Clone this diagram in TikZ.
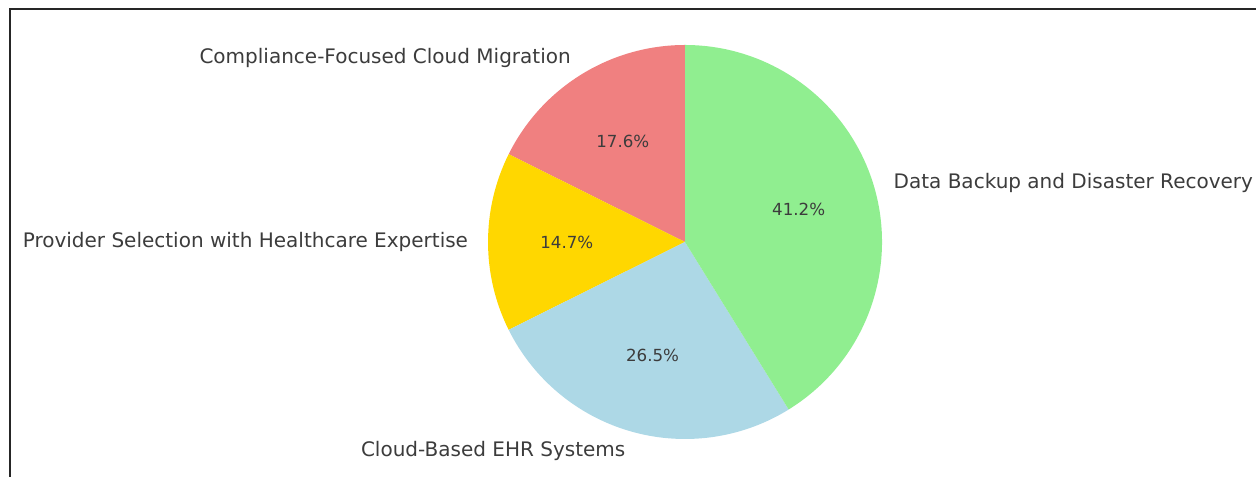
\documentclass[tikz,border=0pt]{standalone}
\usepackage{fontspec}
\setmainfont{DejaVu Sans}
\usepackage{tikz}
\usetikzlibrary{positioning}
\usepackage{xcolor}
\definecolor{slicered}{RGB}{240,128,128}
\definecolor{sliceyellow}{RGB}{255,215,0}
\definecolor{sliceblue}{RGB}{173,216,230}
\definecolor{slicegreen}{RGB}{144,238,144}
\definecolor{labelgray}{RGB}{60,60,60}
\tikzstyle{slice} = [draw=none]
\tikzstyle{catlabel} = [inner sep=0pt, text=labelgray, font=\fontsize{15}{17}\selectfont]
\tikzstyle{pctlabel} = [inner sep=0pt, text=labelgray, font=\fontsize{12.5}{14}\selectfont]

\begin{document}
\begin{tikzpicture}[x=0.75pt, y=0.75pt]
\useasboundingbox (0,0) rectangle (1256,477);

% Frame
\draw[line width=1.5pt, color=black!85] (10,-10) rectangle (1270,468);

% Centre of the pie
\coordinate (c) at (685,235);

% Slices
\fill[slice, slicered] (c) -- ++(90:197) arc[start angle=90, end angle=153.53, radius=197] -- cycle;
\fill[slice, sliceyellow] (c) -- ++(153.53:197) arc[start angle=153.53, end angle=206.47, radius=197] -- cycle;
\fill[slice, sliceblue] (c) -- ++(206.47:197) arc[start angle=206.47, end angle=301.76, radius=197] -- cycle;
\fill[slice, slicegreen] (c) -- ++(301.76:197) arc[start angle=301.76, end angle=450, radius=197] -- cycle;

% Category labels
\node[catlabel, anchor=east] (compliance) at (571,419.2) {Compliance-Focused Cloud Migration};
\node[catlabel, anchor=east] (provider) at (468.3,235) {Provider Selection with Healthcare Expertise};
\node[catlabel, anchor=east] (ehr) at (625.6,26.5) {Cloud-Based EHR Systems};
\node[catlabel, anchor=west] (backup) at (893.4,294.3) {Data Backup and Disaster Recovery};

% Percentages
\node[pctlabel] (pctcompliance) at (622.8,335.5) {17.6\%};
\node[pctlabel] (pctprovider) at (566.8,235) {14.7\%};
\node[pctlabel] (pctehr) at (652.6,121.3) {26.5\%};
\node[pctlabel] (pctbackup) at (798.7,267.4) {41.2\%};
\end{tikzpicture}
\end{document}
